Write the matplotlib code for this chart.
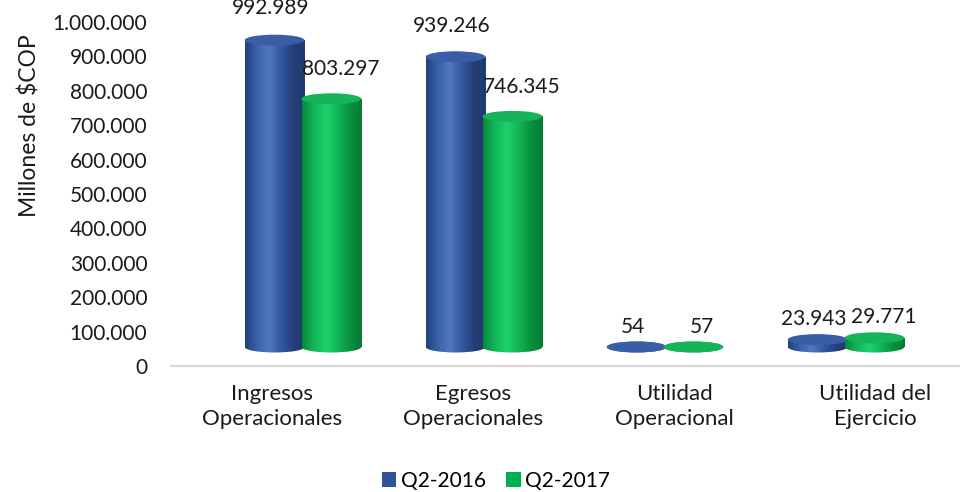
import numpy as np
import matplotlib
matplotlib.use("Agg")
import matplotlib.pyplot as plt
from matplotlib.patches import Ellipse, Patch
from matplotlib.colors import LinearSegmentedColormap
from matplotlib.ticker import FuncFormatter

plt.rcParams['font.family'] = ['Lato', 'DejaVu Sans']

categories = ["Ingresos\nOperacionales", "Egresos\nOperacionales", "Utilidad\nOperacional", "Utilidad del\nEjercicio"]
series_names = ["Q2-2016", "Q2-2017"]
q2_2016 = [992989, 939246, 54, 23943]
q2_2017 = [803297, 746345, 57, 29771]
value_labels_2016 = ["992.989", "939.246", "54", "23.943"]
value_labels_2017 = ["803.297", "746.345", "57", "29.771"]
yticks = list(range(0, 1000001, 100000))

W, H = 960, 492
fig = plt.figure(figsize=(W / 100, H / 100), dpi=100)

ax_l, ax_r, ax_t, ax_b = 171, 960, 22, 366
pos = [ax_l / W, (H - ax_b) / H, (ax_r - ax_l) / W, (ax_b - ax_t) / H]
ax = fig.add_axes(pos)
ax2 = fig.add_axes(pos, frameon=False)

txtc = '#1a1a1a'

# main axis (ticks, category labels)
ax.set_ylim(0, 1000000)
ax.set_xlim(-0.5025, -0.5025 + (ax_r - ax_l) / 201)
ax.set_yticks(yticks)
ax.yaxis.set_major_formatter(FuncFormatter(lambda v, p: f"{int(v):,}".replace(",", ".")))
ax.set_xticks(range(len(categories)))
ax.set_xticklabels(categories, linespacing=1.3)
ax.tick_params(axis='y', length=0, pad=17, labelsize=15, labelcolor=txtc)
ax.tick_params(axis='x', length=0, pad=13, labelsize=16, labelcolor=txtc)
for s in ['top', 'right', 'left']:
    ax.spines[s].set_visible(False)
ax.spines['bottom'].set_color('#D9D9D9')
ax.spines['bottom'].set_linewidth(1.6)

# back plane axis for 3D-ish cylinders
base_px, scale = 347, 309 / 1e6
ax2.set_xticks([]); ax2.set_yticks([])

ell_h = 11 / scale
x = np.arange(len(categories))
width = 0.33
off = 0.157

blue_cmap = LinearSegmentedColormap.from_list('b', ['#22407a', '#3a62aa', '#4f78bf', '#3558a0', '#243f78', '#1f3a70'])
green_cmap = LinearSegmentedColormap.from_list('g', ['#068a3a', '#12b558', '#1fd06c', '#12b556', '#08923e', '#067a33'])
top_colors = ['#3a5ea6', '#16b458']
grad = np.linspace(0, 1, 256).reshape(1, -1)
PT = 72 / 100

def draw(vals, dx, cmap, topc, labels, name, lab_dx):
    bars = ax2.bar(x + dx, vals, width=width, color='none', edgecolor='none', label=name)
    anns = []
    for b, v, lab in zip(bars, vals, labels):
        x0, w = b.get_x(), b.get_width()
        xc = x0 + w / 2
        be = Ellipse((xc, 0), w, ell_h, facecolor='none', edgecolor='none')
        ax2.add_patch(be)
        im = ax2.imshow(grad, extent=[x0, x0 + w, -ell_h, ell_h], cmap=cmap, aspect='auto', zorder=2)
        im.set_clip_path(be)
        im2 = ax2.imshow(grad, extent=[x0, x0 + w, 0, max(v, 1)], cmap=cmap, aspect='auto', zorder=2)
        im2.set_clip_path(b)
        te = Ellipse((xc, v), w, ell_h, facecolor=topc, edgecolor='none', zorder=3)
        ax2.add_patch(te)
        off_px = 20 + 12 * v / 1e6
        a = ax2.annotate(lab, (xc, v), xytext=(lab_dx * PT, off_px * PT), textcoords='offset points',
                         ha='center', va='center', fontsize=15, color=txtc, zorder=5)
        anns.append(a)
    return anns

a16 = draw(q2_2016, -off, blue_cmap, top_colors[0], value_labels_2016, series_names[0], -4)
a17 = draw(q2_2017, off, green_cmap, top_colors[1], value_labels_2017, series_names[1], 9)
ax2.set_ylim((base_px - ax_b) / scale, (base_px - ax_t) / scale)
ax2.set_xlim((ax_l - 303) / 181, (ax_r - 303) / 181)

# resolve overlapping value labels within a group
fig.canvas.draw()
r = fig.canvas.get_renderer()
for la, ra in zip(a16, a17):
    bl, br = la.get_window_extent(r), ra.get_window_extent(r)
    if bl.overlaps(br):
        ov = bl.x1 - br.x0
        lx, ly = la.xyann
        rx, ry = ra.xyann
        la.xyann = (lx - (ov / 2 + 1) * PT, ly)
        ra.xyann = (rx + (ov / 2 + 1) * PT, ry + 5 * PT)

fig.text(30 / W, 1 - 126 / H, "Millones de $COP", rotation=90, ha='center', va='center',
         fontsize=16.5, color=txtc)

handles = [Patch(facecolor='#2F5597', edgecolor='none'), Patch(facecolor='#00B050', edgecolor='none')]
fig.legend(handles, series_names, loc='center', bbox_to_anchor=(496 / W, 1 - 481 / H), ncol=2,
           frameon=False, fontsize=15, handlelength=0.7, handleheight=0.7, handletextpad=0.2,
           columnspacing=1.0, borderaxespad=0)

fig.savefig("out.png", dpi=100)
